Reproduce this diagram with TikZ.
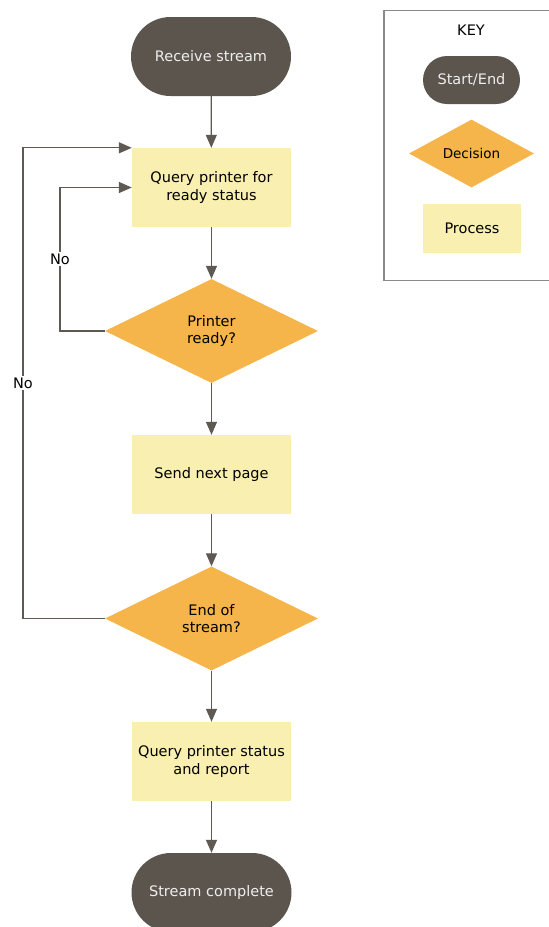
\documentclass[tikz,border=0pt]{standalone}
\usepackage{fontspec}
\setmainfont{DejaVu Sans}
\usetikzlibrary{shapes.geometric,arrows.meta}
\definecolor{termfill}{HTML}{5B554D}
\definecolor{procfill}{HTML}{F9EFB0}
\definecolor{decfill}{HTML}{F5B54A}
\definecolor{linecol}{HTML}{5F5953}
\definecolor{keycol}{HTML}{8A8A8A}
\definecolor{termtext}{HTML}{EEEEEE}
\begin{document}
\begin{tikzpicture}[x=1pt,y=-1pt,
  every node/.style={font=\fontsize{14.5pt}{17.5pt}\selectfont, align=center, inner sep=0pt},
  terminal/.style={rectangle, rounded corners=39.5pt, fill=termfill, text=termtext, minimum width=160pt, minimum height=79pt},
  process/.style={rectangle, fill=procfill, minimum width=159pt, minimum height=79pt},
  decision/.style={diamond, fill=decfill, minimum width=213pt, minimum height=104pt},
  conn/.style={draw=linecol, line width=1.3pt, -{Triangle[width=11pt,length=13pt]}},
  loopline/.style={draw=linecol, line width=1.3pt},
  lbl/.style={fill=white, inner sep=2pt}
]
\useasboundingbox (0,0) rectangle (549,927);
% key
\draw[keycol, line width=1.2pt] (384,10.5) rectangle (580,280.5);
\node (keytitle) at (471,30) {KEY};
\node[terminal, rounded corners=24pt, minimum width=97pt, minimum height=48pt] (kterm) at (471.5,80) {Start/End};
\node[decision, minimum width=125pt, minimum height=63pt, font=\fontsize{13.5pt}{16pt}\selectfont] (kdec) at (471.5,153.5) {Decision};
\node[process, minimum width=98pt, minimum height=49pt] (kproc) at (472,228) {Process};
% main flow
\node[terminal] (rs) at (211,56.5) {Receive stream};
\node[process] (q1) at (211.5,187.5) {Query printer for\\ready status};
\node[decision] (pr) at (211.5,331) {Printer\\ready?};
\node[process] (snp) at (211.5,474.5) {Send next page};
\node[decision] (eos) at (211.5,618.5) {End of\\stream?};
\node[process] (qs) at (211.5,761.5) {Query printer status\\and report};
\node[terminal] (sc) at (211.5,892.5) {Stream complete};
\draw[conn] (rs) -- (q1);
\draw[conn] (q1) -- (pr);
\draw[conn] (pr) -- (snp);
\draw[conn] (snp) -- (eos);
\draw[conn] (eos) -- (qs);
\draw[conn] (qs) -- (sc);
\coordinate (c1) at (60,331);
\coordinate (c2) at (23,618.5);
\draw[conn] (pr.west) -- (c1) |- (q1.west);
\draw[conn] (eos.west) -- (c2) |- (q1.north west);
\node[lbl] (no1) at (60,259) {No};
\node[lbl] (no2) at (23,383) {No};
\end{tikzpicture}
\end{document}
